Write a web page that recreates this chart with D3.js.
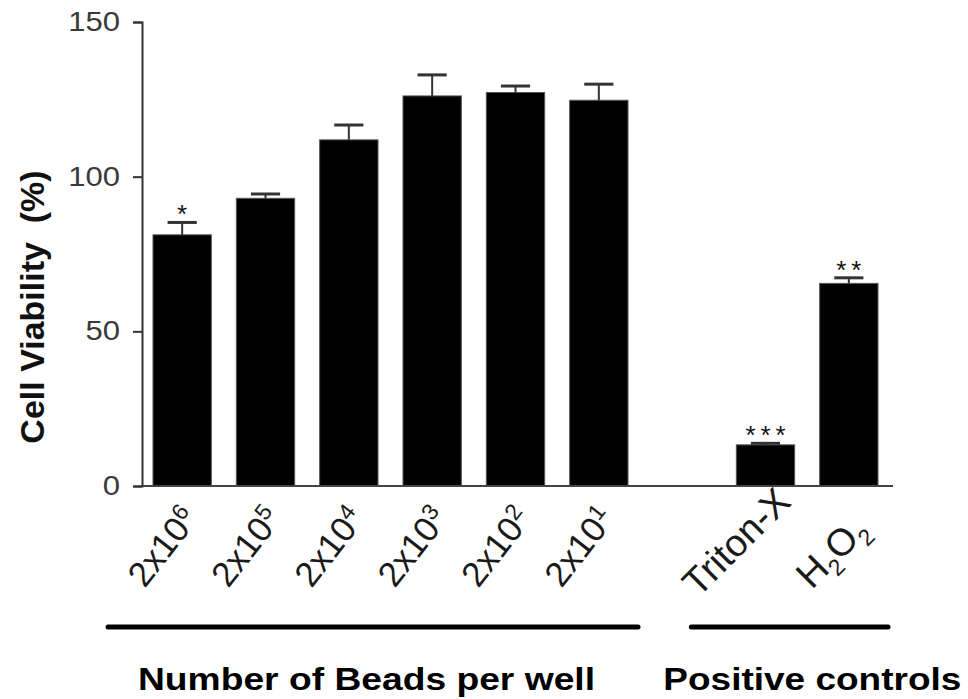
<!DOCTYPE html>
<html>
<head>
<meta charset="utf-8">
<script src="https://cdn.jsdelivr.net/npm/d3@7"></script>
<style>
  html, body { margin: 0; padding: 0; background: #fff; }
  svg { display: block; font-family: "Liberation Sans", Arial, sans-serif; }
</style>
</head>
<body>
<svg id="chart" width="968" height="699"></svg>
<script>
// Cell viability after incubation with beads, plus positive controls.
// "^" marks a superscript character, "_" a subscript character.
const categories = ["2x10^6", "2x10^5", "2x10^4", "2x10^3", "2x10^2", "2x10^1", "Triton-X", "H_2O_2"];
const viability = [81.2, 93.0, 111.9, 126.1, 127.2, 124.7, 13.3, 65.5];
const sem = [4.0, 1.4, 4.8, 6.8, 2.1, 5.2, 0.5, 1.8];
const significance = ["*", "", "", "", "", "", "***", "**"];
const yTicks = [0, 50, 100, 150];
const groupLabels = ["Number of Beads per well", "Positive controls"];
const groupFirst = [0, 6];
const groupLast = [5, 7];

const svg = d3.select("#chart");
const axisX = 142, yTop = 22, yBottom = 486;

// an empty slot separates the bead series from the controls
const slots = [...categories.slice(0, 6), "__gap__", ...categories.slice(6)];
const x = d3.scaleBand().domain(slots).range([axisX, 889]).paddingInner(0.3).paddingOuter(0.132);
const y = d3.scaleLinear().domain([0, 150]).range([yBottom, yTop]);

const data = categories.map((c, i) => ({ c, v: viability[i], e: sem[i], s: significance[i] }));

// bars
svg.append("g").selectAll("rect").data(data).join("rect")
  .attr("x", d => x(d.c))
  .attr("y", d => y(d.v))
  .attr("width", x.bandwidth())
  .attr("height", d => y(0) - y(d.v))
  .attr("fill", "#000")
  .attr("stroke", "#555")
  .attr("stroke-width", 1);

// error bars (upper half only)
const eb = svg.append("g").attr("stroke", "#333");
eb.selectAll("line.stem").data(data).join("line").attr("class", "stem")
  .attr("x1", d => x(d.c) + x.bandwidth() / 2).attr("x2", d => x(d.c) + x.bandwidth() / 2)
  .attr("y1", d => y(d.v)).attr("y2", d => y(d.v + d.e))
  .attr("stroke-width", 2);
eb.selectAll("line.cap").data(data).join("line").attr("class", "cap")
  .attr("x1", d => x(d.c) + x.bandwidth() / 4).attr("x2", d => x(d.c) + x.bandwidth() * 3 / 4)
  .attr("y1", d => y(d.v + d.e)).attr("y2", d => y(d.v + d.e))
  .attr("stroke-width", 3);

// significance stars, one glyph each
const starPitch = 15;
data.forEach(d => {
  const n = d.s.length;
  for (let k = 0; k < n; k++) {
    svg.append("text")
      .attr("x", x(d.c) + x.bandwidth() / 2 + (k - (n - 1) / 2) * starPitch)
      .attr("y", y(d.v + d.e) + 1)
      .attr("text-anchor", "middle")
      .attr("font-size", 26)
      .attr("fill", "#111")
      .text("*");
  }
});

// x baseline
svg.append("line")
  .attr("x1", axisX).attr("x2", 893)
  .attr("y1", yBottom).attr("y2", yBottom)
  .attr("stroke", "#444").attr("stroke-width", 2);

// y axis
const sx = 1.15;
const yAxis = svg.append("g")
  .attr("transform", `translate(${axisX},0)`)
  .call(d3.axisLeft(y).tickValues(yTicks).tickSize(9).tickPadding(13).tickFormat(d3.format("d")));
yAxis.select(".domain").attr("stroke", "#333").attr("stroke-width", 2);
yAxis.selectAll(".tick line").attr("stroke", "#333").attr("stroke-width", 2);
yAxis.selectAll(".tick text")
  .attr("font-family", "Liberation Sans, Arial, sans-serif")
  .attr("font-size", 27)
  .attr("fill", "#3a3a3a")
  .attr("x", -22 / sx)
  .attr("transform", `scale(${sx},1)`);

// y title
svg.append("text")
  .attr("transform", "translate(44,307) rotate(-90)")
  .attr("text-anchor", "middle")
  .attr("font-size", 34)
  .attr("font-weight", "bold")
  .attr("fill", "#111")
  .style("white-space", "pre")
  .text("Cell Viability  (%)");

// rotated category labels with super/subscripts; the bead counts sit a little steeper
data.forEach(d => {
  const isCount = d.c.includes("^");
  const hasSub = d.c.includes("_");
  const angle = isCount ? -52 : -45;
  const cx = x(d.c) + x.bandwidth() / 2 + (isCount ? -10 : -20) + (hasSub ? 12 : 0);
  const cy = (isCount ? 554 : 551) + (hasSub ? 10 : 0);
  const t = svg.append("text")
    .attr("transform", `translate(${cx},${cy}) rotate(${angle})`)
    .attr("text-anchor", "middle")
    .attr("font-size", isCount ? 35 : 38)
    .attr("fill", "#1a1a1a");
  const s = d.c;
  let i = 0;
  while (i < s.length) {
    const ch = s[i];
    if (ch === "^" || ch === "_") {
      const up = ch === "^";
      t.append("tspan").attr("font-size", 23).attr("dy", up ? -12 : 9).text(s[i + 1]);
      t.append("tspan").attr("dy", up ? 12 : -9).text("\u200B");
      i += 2;
    } else {
      let j = i;
      while (j < s.length && s[j] !== "^" && s[j] !== "_") j++;
      t.append("tspan").text(s.slice(i, j));
      i = j;
    }
  }
});

// group brackets and names
groupLabels.forEach((g, gi) => {
  const a = categories[groupFirst[gi]], b = categories[groupLast[gi]];
  const x1 = x(a) - 45, x2 = x(b) + x.bandwidth() + 10;
  svg.append("line")
    .attr("x1", x1).attr("x2", x2).attr("y1", 627).attr("y2", 627)
    .attr("stroke", "#000").attr("stroke-width", 5).attr("stroke-linecap", "round");
  const tx = gi === 0 ? x1 + 30 : x1 - 28;
  svg.append("text")
    .attr("x", tx).attr("y", 690)
    .attr("font-size", 32)
    .attr("font-weight", "bold")
    .attr("fill", "#000")
    .attr("textLength", gi === 0 ? 457 : 298)
    .attr("lengthAdjust", "spacingAndGlyphs")
    .text(g);
});
</script>
</body>
</html>
